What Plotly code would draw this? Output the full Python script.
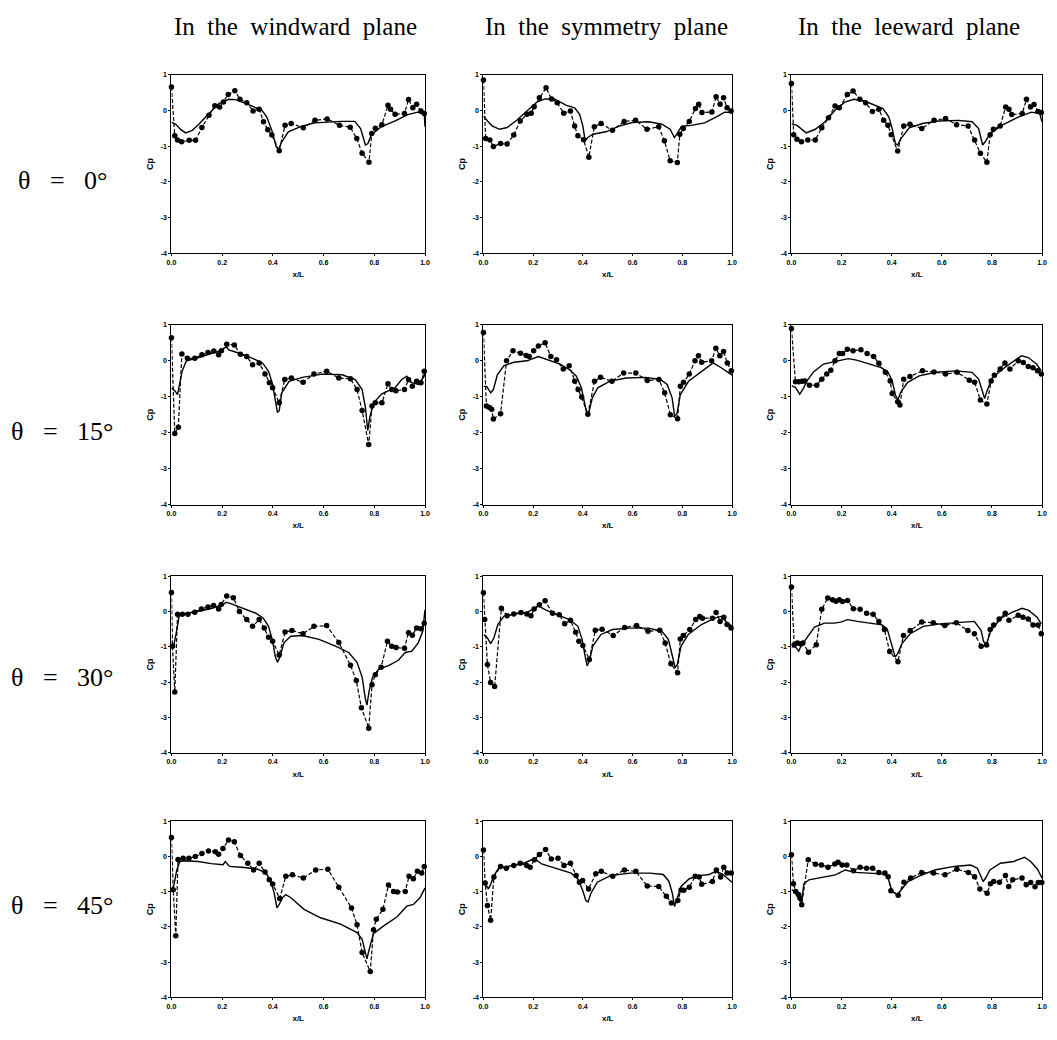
import plotly.graph_objects as go

# ---------------- DATA ----------------
# Row 1: theta = 0 deg
WW0_EXP_X = [0.0, 0.013, 0.024, 0.04, 0.07, 0.095, 0.12, 0.148, 0.171, 0.19, 0.205, 0.224, 0.25, 0.27, 0.297, 0.322, 0.346, 0.363, 0.38, 0.396, 0.425, 0.448, 0.472, 0.52, 0.566, 0.614, 0.663, 0.705, 0.731, 0.752, 0.779, 0.79, 0.804, 0.83, 0.854, 0.864, 0.882, 0.919, 0.935, 0.952, 0.967, 0.984, 0.997]
WW0_EXP_Y = [0.65, -0.71, -0.83, -0.88, -0.84, -0.84, -0.48, -0.14, 0.13, 0.09, 0.23, 0.44, 0.55, 0.31, 0.21, -0.02, 0.03, -0.32, -0.54, -0.69, -1.13, -0.42, -0.37, -0.49, -0.28, -0.24, -0.42, -0.47, -0.79, -1.2, -1.45, -0.65, -0.5, -0.4, 0.14, 0.03, -0.11, -0.09, 0.3, 0.07, 0.17, -0.02, -0.09]
WW0_CFD_X = [0.0, 0.017, 0.037, 0.056, 0.082, 0.108, 0.148, 0.187, 0.226, 0.252, 0.29, 0.33, 0.357, 0.376, 0.396, 0.413, 0.422, 0.435, 0.461, 0.514, 0.566, 0.67, 0.723, 0.746, 0.765, 0.775, 0.788, 0.827, 0.88, 0.932, 0.971, 0.997, 1.0]
WW0_CFD_Y = [-0.33, -0.39, -0.54, -0.63, -0.56, -0.39, -0.09, 0.19, 0.31, 0.3, 0.2, 0.09, 0.0, -0.19, -0.56, -1.02, -1.1, -0.88, -0.6, -0.44, -0.35, -0.31, -0.31, -0.51, -0.97, -0.93, -0.69, -0.46, -0.3, -0.12, -0.05, -0.11, -0.46]

SY0_EXP_X = [0.0, 0.009, 0.026, 0.04, 0.069, 0.095, 0.122, 0.148, 0.175, 0.192, 0.204, 0.225, 0.252, 0.274, 0.297, 0.323, 0.35, 0.367, 0.38, 0.403, 0.424, 0.446, 0.473, 0.519, 0.566, 0.612, 0.658, 0.705, 0.728, 0.751, 0.78, 0.79, 0.804, 0.828, 0.853, 0.866, 0.879, 0.919, 0.936, 0.952, 0.966, 0.98, 0.996]
SY0_EXP_Y = [0.85, -0.79, -0.83, -1.01, -0.93, -0.94, -0.69, -0.3, -0.11, -0.08, 0.1, 0.35, 0.63, 0.32, 0.21, -0.08, -0.02, -0.44, -0.71, -0.82, -1.31, -0.46, -0.37, -0.56, -0.31, -0.28, -0.53, -0.46, -0.85, -1.41, -1.46, -0.67, -0.51, -0.31, 0.05, 0.17, -0.06, -0.05, 0.38, 0.17, 0.35, 0.07, -0.02]
SY0_CFD_X = [0.0, 0.016, 0.036, 0.066, 0.095, 0.135, 0.175, 0.215, 0.248, 0.287, 0.334, 0.367, 0.387, 0.4, 0.409, 0.42, 0.44, 0.493, 0.546, 0.599, 0.665, 0.718, 0.751, 0.768, 0.777, 0.797, 0.836, 0.89, 0.943, 0.97, 0.996]
SY0_CFD_Y = [-0.16, -0.3, -0.44, -0.53, -0.48, -0.27, -0.02, 0.23, 0.32, 0.31, 0.14, 0.07, -0.11, -0.44, -0.85, -0.76, -0.67, -0.6, -0.44, -0.34, -0.32, -0.39, -0.53, -0.76, -0.67, -0.44, -0.42, -0.35, -0.16, -0.05, -0.06]

LW0_EXP_X = [0.0, 0.009, 0.022, 0.04, 0.065, 0.095, 0.121, 0.148, 0.174, 0.191, 0.223, 0.246, 0.273, 0.296, 0.323, 0.349, 0.368, 0.385, 0.398, 0.424, 0.448, 0.473, 0.52, 0.569, 0.615, 0.659, 0.705, 0.731, 0.754, 0.78, 0.793, 0.806, 0.833, 0.855, 0.868, 0.879, 0.921, 0.938, 0.954, 0.968, 0.984, 0.997]
LW0_EXP_Y = [0.75, -0.68, -0.81, -0.88, -0.83, -0.83, -0.49, -0.21, 0.12, 0.07, 0.44, 0.54, 0.31, 0.21, -0.03, 0.03, -0.28, -0.42, -0.68, -1.14, -0.44, -0.39, -0.51, -0.28, -0.23, -0.4, -0.44, -0.83, -1.2, -1.45, -0.68, -0.53, -0.44, 0.09, 0.03, -0.12, -0.09, 0.31, 0.09, 0.16, -0.03, -0.06]
LW0_CFD_X = [0.0, 0.022, 0.059, 0.095, 0.134, 0.174, 0.213, 0.249, 0.292, 0.332, 0.365, 0.389, 0.402, 0.415, 0.424, 0.437, 0.47, 0.523, 0.589, 0.668, 0.721, 0.747, 0.763, 0.773, 0.793, 0.839, 0.905, 0.958, 0.991, 1.0]
LW0_CFD_Y = [-0.37, -0.42, -0.63, -0.53, -0.32, 0.0, 0.23, 0.31, 0.26, 0.14, 0.05, -0.19, -0.51, -0.93, -0.97, -0.79, -0.49, -0.37, -0.3, -0.28, -0.32, -0.51, -0.97, -0.88, -0.65, -0.42, -0.19, -0.05, -0.09, -0.32]

# Row 2: theta = 15 deg
WW15_EXP_X = [0.0, 0.013, 0.027, 0.041, 0.063, 0.092, 0.12, 0.144, 0.167, 0.186, 0.197, 0.218, 0.248, 0.272, 0.297, 0.32, 0.346, 0.369, 0.386, 0.399, 0.425, 0.447, 0.473, 0.519, 0.562, 0.612, 0.66, 0.706, 0.732, 0.752, 0.778, 0.791, 0.804, 0.83, 0.854, 0.869, 0.885, 0.919, 0.935, 0.95, 0.967, 0.984, 0.997]
WW15_EXP_Y = [0.64, -2.02, -1.85, 0.19, 0.07, 0.07, 0.17, 0.23, 0.27, 0.17, 0.28, 0.46, 0.44, 0.18, 0.12, -0.11, -0.06, -0.37, -0.61, -0.75, -1.17, -0.52, -0.48, -0.6, -0.37, -0.29, -0.48, -0.5, -0.8, -1.38, -2.33, -1.26, -1.17, -1.17, -0.64, -0.8, -0.83, -0.8, -0.52, -0.71, -0.57, -0.61, -0.29]
WW15_CFD_X = [0.0, 0.013, 0.024, 0.033, 0.042, 0.059, 0.098, 0.15, 0.196, 0.216, 0.226, 0.268, 0.32, 0.359, 0.383, 0.399, 0.409, 0.418, 0.425, 0.435, 0.464, 0.516, 0.595, 0.673, 0.725, 0.752, 0.765, 0.774, 0.782, 0.797, 0.83, 0.882, 0.908, 0.928, 0.948, 0.974, 0.997, 1.0]
WW15_CFD_Y = [-0.75, -0.83, -0.94, -0.61, -0.29, 0.0, 0.07, 0.19, 0.28, 0.39, 0.3, 0.21, 0.07, -0.06, -0.29, -0.66, -1.12, -1.44, -1.39, -0.89, -0.57, -0.46, -0.37, -0.39, -0.52, -0.8, -1.3, -1.94, -1.58, -1.17, -0.92, -0.75, -0.52, -0.43, -0.61, -0.66, -0.43, -0.29]

SY15_EXP_X = [0.0, 0.012, 0.024, 0.033, 0.04, 0.069, 0.093, 0.119, 0.149, 0.172, 0.184, 0.202, 0.221, 0.248, 0.271, 0.294, 0.321, 0.345, 0.367, 0.381, 0.395, 0.42, 0.447, 0.471, 0.517, 0.564, 0.613, 0.659, 0.706, 0.729, 0.752, 0.781, 0.792, 0.805, 0.828, 0.851, 0.865, 0.878, 0.918, 0.935, 0.951, 0.966, 0.981, 0.997]
SY15_EXP_Y = [0.79, -1.26, -1.3, -1.35, -1.62, -1.47, 0.0, 0.28, 0.21, 0.15, 0.12, 0.28, 0.41, 0.5, 0.12, 0.03, -0.23, -0.14, -0.57, -0.8, -1.01, -1.49, -0.57, -0.46, -0.57, -0.34, -0.34, -0.55, -0.52, -0.89, -1.5, -1.61, -0.71, -0.6, -0.37, 0.0, 0.14, -0.04, 0.0, 0.35, 0.14, 0.26, -0.06, -0.28]
SY15_CFD_X = [0.0, 0.013, 0.029, 0.04, 0.056, 0.082, 0.122, 0.175, 0.221, 0.255, 0.308, 0.347, 0.374, 0.394, 0.407, 0.416, 0.424, 0.438, 0.46, 0.507, 0.573, 0.653, 0.712, 0.739, 0.759, 0.769, 0.778, 0.792, 0.825, 0.878, 0.924, 0.958, 1.0]
SY15_CFD_Y = [-0.71, -0.71, -0.89, -0.8, -0.39, -0.14, -0.04, 0.0, 0.12, 0.03, -0.09, -0.25, -0.43, -0.75, -1.17, -1.47, -1.44, -1.03, -0.75, -0.57, -0.48, -0.46, -0.52, -0.66, -1.03, -1.53, -1.49, -0.94, -0.57, -0.29, -0.06, -0.2, -0.4]

LW15_EXP_X = [0.0, 0.016, 0.029, 0.042, 0.053, 0.072, 0.101, 0.121, 0.141, 0.157, 0.174, 0.191, 0.204, 0.223, 0.246, 0.277, 0.302, 0.328, 0.349, 0.375, 0.394, 0.402, 0.424, 0.433, 0.448, 0.473, 0.523, 0.569, 0.615, 0.661, 0.71, 0.731, 0.754, 0.78, 0.797, 0.81, 0.833, 0.852, 0.872, 0.905, 0.925, 0.945, 0.964, 0.982, 0.997]
LW15_EXP_Y = [0.9, -0.58, -0.58, -0.57, -0.56, -0.68, -0.68, -0.51, -0.37, -0.26, 0.0, 0.2, 0.2, 0.32, 0.28, 0.31, 0.2, 0.12, -0.07, -0.32, -0.56, -0.91, -1.14, -1.23, -0.51, -0.44, -0.28, -0.31, -0.37, -0.32, -0.54, -0.6, -1.09, -1.2, -0.56, -0.4, -0.23, -0.06, -0.23, 0.0, -0.05, -0.16, -0.19, -0.28, -0.37]
LW15_CFD_X = [0.0, 0.016, 0.033, 0.046, 0.062, 0.088, 0.128, 0.167, 0.207, 0.227, 0.26, 0.312, 0.358, 0.385, 0.402, 0.415, 0.424, 0.437, 0.464, 0.51, 0.576, 0.655, 0.721, 0.747, 0.76, 0.771, 0.781, 0.8, 0.839, 0.879, 0.918, 0.945, 0.978, 0.997]
LW15_CFD_Y = [-0.69, -0.74, -0.93, -0.79, -0.56, -0.31, -0.09, -0.03, 0.02, 0.06, 0.02, -0.09, -0.19, -0.31, -0.56, -0.95, -1.09, -0.86, -0.6, -0.42, -0.32, -0.28, -0.32, -0.51, -0.83, -1.05, -0.83, -0.49, -0.25, -0.05, 0.14, 0.09, -0.09, -0.28]

# Row 3: theta = 30 deg
WW30_EXP_X = [0.0, 0.004, 0.013, 0.024, 0.043, 0.065, 0.092, 0.118, 0.144, 0.166, 0.186, 0.196, 0.218, 0.244, 0.268, 0.297, 0.32, 0.346, 0.366, 0.383, 0.399, 0.425, 0.448, 0.475, 0.519, 0.562, 0.612, 0.66, 0.706, 0.729, 0.749, 0.778, 0.791, 0.804, 0.827, 0.852, 0.869, 0.886, 0.919, 0.935, 0.95, 0.967, 0.984, 0.997]
WW30_EXP_Y = [0.54, -0.98, -2.28, -0.08, -0.08, -0.08, -0.02, 0.07, 0.13, 0.17, 0.07, 0.2, 0.44, 0.39, 0.0, -0.23, -0.42, -0.23, -0.47, -0.73, -0.84, -1.23, -0.58, -0.54, -0.63, -0.42, -0.4, -0.88, -1.52, -1.95, -2.72, -3.3, -2.07, -1.79, -1.58, -0.84, -0.98, -1.02, -1.04, -0.6, -0.67, -0.47, -0.49, -0.33]
WW30_CFD_X = [0.0, 0.009, 0.02, 0.03, 0.046, 0.098, 0.15, 0.203, 0.216, 0.231, 0.281, 0.333, 0.362, 0.383, 0.399, 0.409, 0.418, 0.427, 0.444, 0.471, 0.516, 0.582, 0.647, 0.699, 0.732, 0.752, 0.765, 0.771, 0.78, 0.793, 0.817, 0.856, 0.895, 0.922, 0.948, 0.974, 0.991, 1.0]
WW30_CFD_Y = [-0.84, -0.98, -0.56, -0.14, -0.07, 0.0, 0.07, 0.19, 0.26, 0.23, 0.09, -0.05, -0.19, -0.42, -0.84, -1.26, -1.44, -1.3, -0.88, -0.7, -0.68, -0.79, -0.98, -1.16, -1.44, -1.86, -2.47, -2.65, -2.23, -1.86, -1.63, -1.53, -1.38, -1.16, -1.12, -0.88, -0.56, 0.05]

SY30_EXP_X = [0.0, 0.005, 0.016, 0.029, 0.045, 0.072, 0.095, 0.122, 0.151, 0.175, 0.191, 0.204, 0.225, 0.248, 0.278, 0.305, 0.327, 0.35, 0.371, 0.384, 0.4, 0.426, 0.45, 0.477, 0.522, 0.568, 0.616, 0.662, 0.709, 0.731, 0.754, 0.781, 0.792, 0.804, 0.83, 0.854, 0.87, 0.881, 0.921, 0.936, 0.952, 0.967, 0.98, 0.996]
SY30_EXP_Y = [0.53, -0.23, -1.5, -2.01, -2.12, 0.09, -0.12, -0.07, -0.03, -0.07, -0.12, 0.07, 0.19, 0.3, -0.05, -0.09, -0.35, -0.25, -0.59, -0.84, -0.96, -1.36, -0.53, -0.5, -0.68, -0.45, -0.4, -0.56, -0.53, -0.89, -1.48, -1.73, -0.78, -0.68, -0.51, -0.23, -0.14, -0.19, -0.19, -0.03, -0.28, -0.16, -0.37, -0.47]
SY30_CFD_X = [0.0, 0.016, 0.029, 0.042, 0.058, 0.082, 0.122, 0.175, 0.221, 0.248, 0.294, 0.347, 0.38, 0.397, 0.409, 0.417, 0.426, 0.44, 0.473, 0.519, 0.585, 0.665, 0.718, 0.744, 0.76, 0.771, 0.78, 0.795, 0.824, 0.877, 0.93, 0.956, 0.983, 1.0]
SY30_CFD_Y = [-0.65, -0.75, -0.91, -0.75, -0.37, -0.14, -0.07, -0.03, 0.16, 0.05, -0.09, -0.23, -0.42, -0.79, -1.26, -1.54, -1.4, -0.98, -0.65, -0.51, -0.47, -0.47, -0.56, -0.79, -1.26, -1.59, -1.5, -0.98, -0.65, -0.37, -0.19, -0.14, -0.33, -0.42]

LW30_EXP_X = [0.0, 0.011, 0.024, 0.037, 0.046, 0.068, 0.099, 0.121, 0.145, 0.164, 0.178, 0.191, 0.204, 0.224, 0.247, 0.274, 0.3, 0.326, 0.349, 0.371, 0.392, 0.425, 0.447, 0.474, 0.52, 0.566, 0.612, 0.658, 0.704, 0.73, 0.757, 0.779, 0.793, 0.807, 0.829, 0.853, 0.868, 0.905, 0.924, 0.945, 0.964, 0.984, 0.997]
LW30_EXP_Y = [0.69, -0.94, -0.89, -0.92, -0.89, -1.15, -0.94, 0.06, 0.38, 0.33, 0.29, 0.33, 0.28, 0.31, 0.08, 0.06, -0.05, -0.08, -0.28, -0.51, -1.13, -1.42, -0.68, -0.54, -0.3, -0.32, -0.4, -0.32, -0.54, -0.63, -0.98, -0.95, -0.51, -0.38, -0.21, -0.05, -0.25, -0.11, -0.16, -0.21, -0.38, -0.38, -0.63]
LW30_CFD_X = [0.0, 0.016, 0.029, 0.039, 0.059, 0.092, 0.132, 0.171, 0.197, 0.224, 0.263, 0.316, 0.362, 0.382, 0.401, 0.414, 0.424, 0.441, 0.474, 0.526, 0.592, 0.671, 0.73, 0.757, 0.767, 0.779, 0.796, 0.836, 0.882, 0.921, 0.947, 0.98, 0.997]
LW30_CFD_Y = [-1.0, -1.0, -1.12, -0.97, -0.77, -0.44, -0.33, -0.33, -0.3, -0.23, -0.28, -0.33, -0.38, -0.49, -0.96, -1.29, -1.19, -0.91, -0.63, -0.42, -0.35, -0.3, -0.28, -0.54, -0.86, -0.91, -0.54, -0.19, -0.02, 0.09, 0.03, -0.16, -0.35]

# Row 4: theta = 45 deg
WW45_EXP_X = [0.0, 0.007, 0.017, 0.026, 0.046, 0.069, 0.094, 0.12, 0.146, 0.173, 0.186, 0.203, 0.225, 0.248, 0.272, 0.301, 0.324, 0.346, 0.369, 0.386, 0.399, 0.427, 0.451, 0.477, 0.52, 0.569, 0.617, 0.66, 0.71, 0.732, 0.752, 0.784, 0.797, 0.808, 0.834, 0.856, 0.876, 0.891, 0.922, 0.937, 0.954, 0.97, 0.987, 0.997]
WW45_EXP_Y = [0.54, -0.94, -2.25, -0.08, -0.05, -0.05, 0.0, 0.09, 0.16, 0.14, 0.07, 0.23, 0.47, 0.42, 0.03, -0.19, -0.38, -0.19, -0.44, -0.66, -0.78, -1.19, -0.56, -0.52, -0.61, -0.38, -0.36, -0.87, -1.46, -1.94, -2.73, -3.27, -2.08, -1.78, -1.5, -0.81, -0.99, -1.01, -0.99, -0.56, -0.63, -0.42, -0.47, -0.28]
WW45_CFD_X = [0.0, 0.01, 0.021, 0.033, 0.052, 0.105, 0.157, 0.203, 0.212, 0.229, 0.288, 0.34, 0.373, 0.392, 0.405, 0.416, 0.425, 0.438, 0.451, 0.471, 0.523, 0.588, 0.667, 0.732, 0.752, 0.765, 0.771, 0.78, 0.797, 0.837, 0.889, 0.928, 0.954, 0.98, 1.0]
WW45_CFD_Y = [-0.99, -0.8, -0.38, -0.14, -0.12, -0.14, -0.2, -0.23, -0.14, -0.28, -0.31, -0.36, -0.47, -0.7, -1.03, -1.46, -1.36, -1.17, -1.08, -1.17, -1.5, -1.74, -1.92, -2.16, -2.35, -2.77, -2.91, -2.63, -2.19, -1.97, -1.72, -1.41, -1.36, -1.17, -0.89]

SY45_EXP_X = [0.0, 0.007, 0.016, 0.029, 0.042, 0.069, 0.092, 0.122, 0.148, 0.174, 0.188, 0.205, 0.225, 0.25, 0.273, 0.3, 0.324, 0.35, 0.373, 0.386, 0.399, 0.423, 0.452, 0.474, 0.52, 0.567, 0.613, 0.659, 0.705, 0.736, 0.756, 0.782, 0.795, 0.806, 0.828, 0.852, 0.868, 0.878, 0.921, 0.937, 0.954, 0.967, 0.98, 0.997]
SY45_EXP_Y = [0.19, -0.75, -1.39, -1.81, -0.58, -0.28, -0.33, -0.25, -0.19, -0.25, -0.3, -0.09, 0.06, 0.2, -0.07, -0.05, -0.25, -0.19, -0.54, -0.73, -0.68, -0.92, -0.49, -0.42, -0.56, -0.38, -0.42, -0.84, -0.85, -1.13, -1.32, -1.25, -0.95, -0.96, -0.87, -0.56, -0.58, -0.79, -0.71, -0.38, -0.58, -0.3, -0.47, -0.47]
SY45_CFD_X = [0.0, 0.009, 0.02, 0.029, 0.042, 0.062, 0.102, 0.155, 0.201, 0.207, 0.234, 0.3, 0.353, 0.379, 0.399, 0.412, 0.421, 0.432, 0.458, 0.511, 0.59, 0.67, 0.723, 0.746, 0.76, 0.769, 0.778, 0.795, 0.828, 0.868, 0.908, 0.934, 0.96, 1.0]
SY45_CFD_Y = [-0.73, -0.79, -0.92, -0.79, -0.54, -0.32, -0.27, -0.21, -0.07, -0.07, -0.21, -0.35, -0.47, -0.63, -0.96, -1.25, -1.29, -1.05, -0.73, -0.54, -0.47, -0.47, -0.51, -0.7, -1.05, -1.42, -1.23, -0.85, -0.63, -0.54, -0.51, -0.42, -0.49, -0.73]

LW45_EXP_X = [0.0, 0.008, 0.017, 0.028, 0.034, 0.041, 0.067, 0.096, 0.12, 0.146, 0.173, 0.186, 0.202, 0.221, 0.248, 0.274, 0.3, 0.324, 0.349, 0.373, 0.386, 0.397, 0.426, 0.449, 0.476, 0.52, 0.567, 0.613, 0.66, 0.706, 0.731, 0.752, 0.781, 0.794, 0.807, 0.83, 0.854, 0.867, 0.883, 0.92, 0.937, 0.955, 0.972, 0.985, 0.999]
LW45_EXP_Y = [0.05, -0.77, -0.99, -1.08, -1.18, -1.37, -0.09, -0.22, -0.24, -0.3, -0.21, -0.16, -0.24, -0.24, -0.4, -0.3, -0.33, -0.33, -0.45, -0.47, -0.57, -0.97, -1.1, -0.73, -0.61, -0.45, -0.47, -0.52, -0.36, -0.45, -0.57, -0.92, -1.04, -0.77, -0.71, -0.73, -0.54, -0.85, -0.66, -0.61, -0.8, -0.74, -0.86, -0.74, -0.74]
LW45_CFD_X = [0.0, 0.011, 0.024, 0.034, 0.041, 0.05, 0.07, 0.123, 0.175, 0.215, 0.254, 0.307, 0.36, 0.383, 0.393, 0.402, 0.423, 0.439, 0.465, 0.505, 0.571, 0.65, 0.715, 0.742, 0.755, 0.765, 0.775, 0.792, 0.834, 0.887, 0.93, 0.955, 0.982, 1.0]
LW45_CFD_Y = [-0.94, -0.99, -1.13, -1.27, -1.23, -0.77, -0.66, -0.58, -0.52, -0.38, -0.45, -0.47, -0.49, -0.55, -0.8, -0.99, -1.08, -0.94, -0.71, -0.57, -0.38, -0.28, -0.24, -0.33, -0.52, -0.71, -0.61, -0.38, -0.19, -0.14, -0.02, -0.14, -0.36, -0.61]

COLUMN_TITLES = ["In the windward plane", "In the symmetry plane", "In the leeward plane"]
ROW_LABELS = ["\u03b8 = 0\u00b0", "\u03b8 = 15\u00b0", "\u03b8 = 30\u00b0", "\u03b8 = 45\u00b0"]
Y_TICKS = [1, 0, -1, -2, -3, -4]
Y_TICK_TEXT = ["1", "0", "-1", "-2", "-3", "-4"]
X_TICKS = [0.0, 0.2, 0.4, 0.6, 0.8, 1.0]
X_TICK_TEXT = ["0.0", "0.2", "0.4", "0.6", "0.8", "1.0"]

PANELS = [
    [(WW0_EXP_X, WW0_EXP_Y, WW0_CFD_X, WW0_CFD_Y), (SY0_EXP_X, SY0_EXP_Y, SY0_CFD_X, SY0_CFD_Y), (LW0_EXP_X, LW0_EXP_Y, LW0_CFD_X, LW0_CFD_Y)],
    [(WW15_EXP_X, WW15_EXP_Y, WW15_CFD_X, WW15_CFD_Y), (SY15_EXP_X, SY15_EXP_Y, SY15_CFD_X, SY15_CFD_Y), (LW15_EXP_X, LW15_EXP_Y, LW15_CFD_X, LW15_CFD_Y)],
    [(WW30_EXP_X, WW30_EXP_Y, WW30_CFD_X, WW30_CFD_Y), (SY30_EXP_X, SY30_EXP_Y, SY30_CFD_X, SY30_CFD_Y), (LW30_EXP_X, LW30_EXP_Y, LW30_CFD_X, LW30_CFD_Y)],
    [(WW45_EXP_X, WW45_EXP_Y, WW45_CFD_X, WW45_CFD_Y), (SY45_EXP_X, SY45_EXP_Y, SY45_CFD_X, SY45_CFD_Y), (LW45_EXP_X, LW45_EXP_Y, LW45_CFD_X, LW45_CFD_Y)],
]

# ---------------- LAYOUT ----------------
# The page body has an 8px default margin, so the figure is 16px smaller
# than the window and all page-pixel positions are shifted by 8px.
OFF = 8
W, H = 1057 - 2 * OFF, 1040 - 2 * OFF
COL_PX = [(168, 424), (483, 734), (794, 1047)]
ROW_PX = [(71, 251), (323, 504), (576, 754), (823, 1000)]
ROW_LABEL_Y = [178, 430, 678, 908]
COL_TITLE_X = [293, 607, 913]
NB = "\u00a0"

def px_x(p):
    return (p - OFF) / W

def px_y(p):
    return 1 - (p - OFF) / H

def spaced(s, n):
    return s.replace(" ", NB * n)

fig = go.Figure()
layout = dict(
    width=W, height=H, margin=dict(l=0, r=0, t=0, b=0),
    paper_bgcolor="white", plot_bgcolor="white", showlegend=False,
    annotations=[],
)

tick_font = dict(family="Liberation Sans", size=7, color="black", weight="bold")
k = 0
for r in range(4):
    for c in range(3):
        k += 1
        xa = "x" if k == 1 else f"x{k}"
        ya = "y" if k == 1 else f"y{k}"
        ex, ey, cx, cy = PANELS[r][c]
        fig.add_trace(go.Scatter(x=cx, y=cy, mode="lines", xaxis=xa, yaxis=ya,
                                 line=dict(color="black", width=1.4), hoverinfo="skip"))
        fig.add_trace(go.Scatter(x=ex, y=ey, mode="lines+markers", xaxis=xa, yaxis=ya,
                                 line=dict(color="black", width=1.2, dash="4px,2px"),
                                 marker=dict(color="black", size=5.5), cliponaxis=False))
        x0, x1 = COL_PX[c]
        y0, y1 = ROW_PX[r]
        axis_common = dict(showline=True, mirror=True, linecolor="black", linewidth=1.2,
                           showgrid=False, zeroline=False, ticks="outside", ticklen=2,
                           tickcolor="black", tickfont=tick_font)
        layout["xaxis" if k == 1 else f"xaxis{k}"] = dict(
            domain=[px_x(x0), px_x(x1)], range=[0, 1], anchor=ya,
            tickvals=X_TICKS, ticktext=X_TICK_TEXT,
            title=dict(text="x/L", font=dict(family="Liberation Sans", size=8, color="black", weight="bold"), standoff=6),
            **axis_common)
        layout["yaxis" if k == 1 else f"yaxis{k}"] = dict(
            domain=[px_y(y1), px_y(y0)], range=[-4, 1], anchor=xa,
            tickvals=Y_TICKS, ticktext=Y_TICK_TEXT,
            title=dict(text="Cp", font=dict(family="Liberation Sans", size=9, color="black", weight="bold"), standoff=5),
            **axis_common)

for c, t in enumerate(COLUMN_TITLES):
    layout["annotations"].append(dict(
        text=spaced(t, 2), x=px_x(COL_TITLE_X[c]), y=1, xref="paper", yref="paper",
        xanchor="center", yanchor="top", showarrow=False, borderpad=0,
        font=dict(family="Liberation Serif", size=25, color="black")))
for r, t in enumerate(ROW_LABELS):
    layout["annotations"].append(dict(
        text=spaced(t, 3), x=px_x(58), y=px_y(ROW_LABEL_Y[r]), xref="paper", yref="paper",
        xanchor="center", yanchor="middle", showarrow=False,
        font=dict(family="Liberation Serif", size=26, color="black")))

fig.update_layout(**layout)
fig.write_html("out.html")
